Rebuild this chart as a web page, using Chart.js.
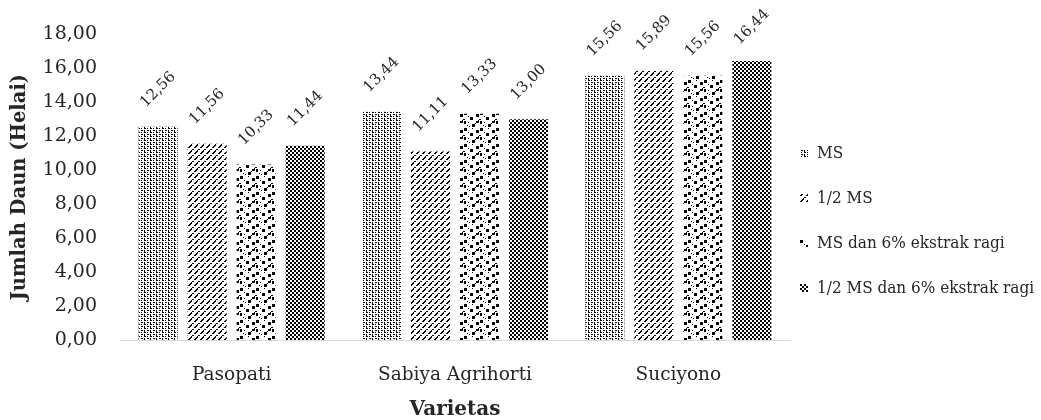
<!DOCTYPE html>
<html>
<head>
<meta charset="utf-8">
<script src="https://cdn.jsdelivr.net/npm/chart.js@4/dist/chart.umd.min.js"></script>
<style>
  html, body { margin: 0; padding: 0; background: #fff; }
  #wrap { width: 1041px; height: 420px; position: relative; }
</style>
</head>
<body>
<div id="wrap"><canvas id="daunChart"></canvas></div>
<script>
// ===== Data =====
const varietas = ["Pasopati", "Sabiya Agrihorti", "Suciyono"];
const seriesNames = ["MS", "1/2 MS", "MS dan 6% ekstrak ragi", "1/2 MS dan 6% ekstrak ragi"];
const msValues = [12.56, 13.44, 15.56];
const halfMsValues = [11.56, 11.11, 15.89];
const msRagiValues = [10.33, 13.33, 15.56];
const halfMsRagiValues = [11.44, 13.00, 16.44];
const yTicks = [0, 2, 4, 6, 8, 10, 12, 14, 16, 18];

const FONT = "'DejaVu Serif', 'Liberation Serif', serif";
const TEXT = "#262626";

const canvas = document.getElementById("daunChart");
const ctx = canvas.getContext("2d");

// ===== Fill patterns (black on white) =====
function makePattern(rows) {
  const c = document.createElement("canvas");
  c.width = rows[0].length;
  c.height = rows.length;
  const g = c.getContext("2d");
  g.fillStyle = "#fff";
  g.fillRect(0, 0, c.width, c.height);
  g.fillStyle = "#000";
  rows.forEach((r, y) => {
    [...r].forEach((ch, x) => { if (ch === "X") g.fillRect(x, y, 1, 1); });
  });
  return ctx.createPattern(c, "repeat");
}

const patterns = [
  // dotted grid
  makePattern([
    "XX.X..",
    "......",
    "X..XX.",
    "X.....",
  ]),
  // dashed upward diagonal
  makePattern([
    ".....X",
    "....XX",
    "...XX.",
    "..XX..",
    "......",
    "XX....",
  ]),
  // large confetti
  makePattern([
    "XXX.....X.......",
    "XXX.............",
    "XXX.........XXX.",
    "............XXX.",
    "....X.......XXX.",
    "......XXX.......",
    "......XXX.......",
    "X.....XXX......X",
    "..............X.",
    "XX..........XXX.",
    "XX..X.......XXX.",
    "XX.........X....",
    "........XXX.....",
    "...X....XXX.....",
    ".....X..XXX.....",
    "................",
  ]),
  // checkerboard
  makePattern([
    "XX..",
    "XX..",
    "..XX",
    "..XX",
  ]),
];

// ===== Plugins =====
const fmt = v => v.toFixed(2).replace(".", ",");

const barLabels = {
  id: "barLabels",
  afterDatasetsDraw(chart) {
    const c = chart.ctx;
    c.save();
    c.font = "15px " + FONT;
    c.fillStyle = TEXT;
    c.textAlign = "center";
    c.textBaseline = "middle";
    chart.data.datasets.forEach((ds, i) => {
      chart.getDatasetMeta(i).data.forEach((bar, j) => {
        const y = Math.max(bar.y - 37, 27);
        c.save();
        c.translate(bar.x, y);
        c.rotate(-Math.PI / 4);
        c.fillText(fmt(ds.data[j]), 0, 0);
        c.restore();
      });
    });
    c.restore();
  }
};

// legend drawn at the right, text squeezed to the room Excel gives it
const sideLegend = {
  id: "sideLegend",
  afterDraw(chart) {
    const c = chart.ctx;
    c.save();
    let size = 17;
    c.font = "condensed " + size + "px 'DejaVu Serif Condensed', 'DejaVu Serif', serif";
    const widest = Math.max(...chart.data.datasets.map(ds => c.measureText(ds.label).width));
    if (widest > 220) {
      size = size * 220 / widest;
      c.font = "condensed " + size + "px 'DejaVu Serif Condensed', 'DejaVu Serif', serif";
    }
    c.textBaseline = "middle";
    chart.data.datasets.forEach((ds, i) => {
      const y = 153 + i * 45;
      c.fillStyle = ds.backgroundColor;
      c.fillRect(800, y - 4, 8, 8);
      c.fillStyle = TEXT;
      c.fillText(ds.label, 817, y + 1);
    });
    c.restore();
  }
};

// ===== Chart =====
const seriesValues = [msValues, halfMsValues, msRagiValues, halfMsRagiValues];

new Chart(ctx, {
  type: "bar",
  data: {
    labels: varietas,
    datasets: seriesNames.map((name, i) => ({
      label: name,
      data: seriesValues[i],
      backgroundColor: patterns[i],
      borderWidth: 0,
      categoryPercentage: 0.878,
      barPercentage: 0.796
    }))
  },
  options: {
    responsive: true,
    maintainAspectRatio: false,
    animation: false,
    layout: { padding: { top: 22, right: 251, bottom: 0, left: 0 } },
    plugins: {
      legend: { display: false },
      tooltip: { enabled: false }
    },
    scales: {
      x: {
        grid: { display: false, drawTicks: false },
        border: { display: true, color: "#d9d9d9", width: 1 },
        ticks: { color: TEXT, font: { family: FONT, size: 18.5 }, padding: 24 },
        title: {
          display: true,
          text: "Varietas",
          color: TEXT,
          font: { family: FONT, size: 20, weight: "bold", lineHeight: 1 },
          padding: { top: 0, bottom: 0 }
        },
        afterFit(scale) { scale.height = 80; }
      },
      y: {
        min: 0,
        max: 18,
        afterBuildTicks(scale) { scale.ticks = yTicks.map(v => ({ value: v })); },
        grid: { display: false, drawTicks: false },
        border: { display: false },
        ticks: {
          color: TEXT,
          font: { family: FONT, size: 19 },
          padding: 23,
          callback: v => fmt(v)
        },
        title: {
          display: true,
          text: "Jumlah Daun (Helai)",
          color: TEXT,
          font: { family: FONT, size: 19.5, weight: "bold" },
          padding: { top: 8, bottom: 4 }
        },
        afterFit(scale) { scale.width = 120; }
      }
    }
  },
  plugins: [barLabels, sideLegend]
});
</script>
</body>
</html>
